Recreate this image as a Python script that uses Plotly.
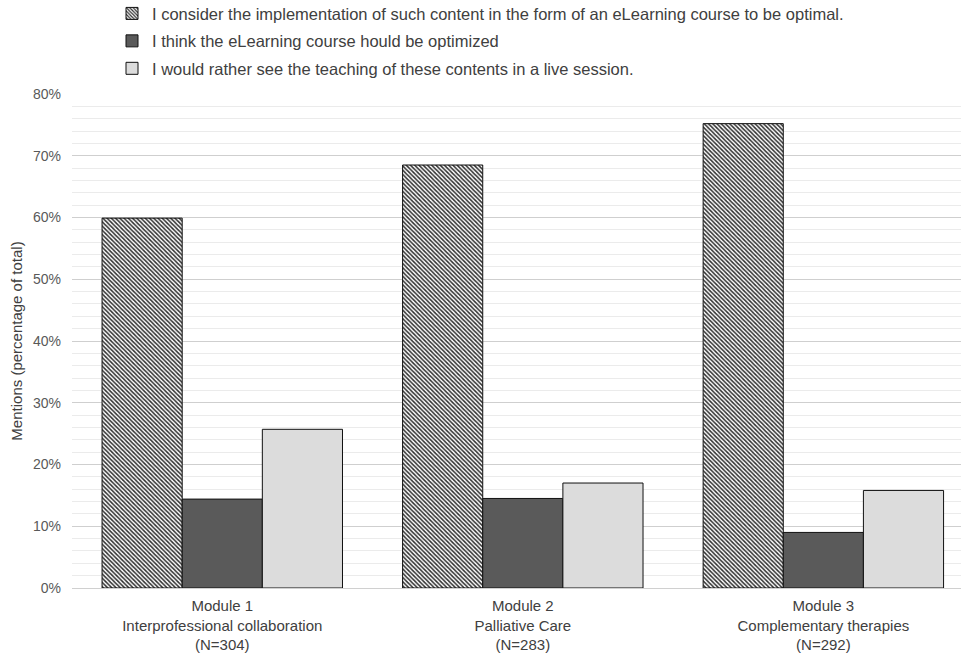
import plotly.graph_objects as go

categories = [
    "Module 1<br>Interprofessional collaboration<br>(N=304)",
    "Module 2<br>Palliative Care<br>(N=283)",
    "Module 3<br>Complementary therapies<br>(N=292)",
]
series_names = [
    "I consider the implementation of such content in the form of an eLearning course to be optimal.",
    "I think the eLearning course hould be optimized",
    "I would rather see the teaching of these contents in a live session.",
]
optimal = [59.9, 68.5, 75.2]
optimize = [14.4, 14.5, 9.0]
live = [25.7, 17.0, 15.8]
y_ticks = [0, 10, 20, 30, 40, 50, 60, 70, 80]

FONT = "Liberation Sans, Arial, sans-serif"

fig = go.Figure()
fig.add_trace(go.Bar(
    x=categories, y=optimal, name=series_names[0], legendgroup="a",
    marker=dict(color="white", line=dict(color="#111111", width=1),
                pattern=dict(shape="\\", size=3, solidity=0.5, fgcolor="#2e2e2e", bgcolor="white", fillmode="replace")),
))
fig.add_trace(go.Bar(
    x=categories, y=optimize, name=series_names[1], legendgroup="b",
    marker=dict(color="#5a5a5a", line=dict(color="#111111", width=1)),
))
fig.add_trace(go.Bar(
    x=categories, y=live, name=series_names[2], legendgroup="c",
    marker=dict(color="#dcdcdc", line=dict(color="#111111", width=1)),
))

fig.update_layout(
    width=961, height=657,
    margin=dict(l=72, r=0, t=94, b=69, autoexpand=False),
    paper_bgcolor="white", plot_bgcolor="white",
    font=dict(family=FONT, size=15, color="#404040"),
    barmode="group", bargap=0.2, bargroupgap=0,
    showlegend=True,
    legend=dict(
        x=0.045, y=1.198, xref="paper", yref="paper", xanchor="left", yanchor="top",
        orientation="v", traceorder="grouped", tracegroupgap=3,
        font=dict(family=FONT, size=16.5, color="#404040"),
        bgcolor="rgba(0,0,0,0)", itemwidth=30,
    ),
    xaxis=dict(
        range=[-0.5, 2.458], showgrid=False, showline=True, linecolor="#d0d0d0",
        ticks="", tickfont=dict(size=15, color="#404040"), automargin=False,
        ticklabelstandoff=4,
    ),
    yaxis=dict(
        range=[0, 80], tickvals=y_ticks, ticktext=[f"{v}%" for v in y_ticks],
        showgrid=True, gridcolor="#cfcfcf", gridwidth=1,
        minor=dict(dtick=2, showgrid=True, gridcolor="#ebebeb", gridwidth=1),
        zeroline=False, showline=False, ticks="",
        tickfont=dict(size=14, color="#595959"), automargin=False,
        ticklabelstandoff=10,
        title=dict(text="Mentions (percentage of total)", font=dict(size=15, color="#404040"), standoff=6),
    ),
)

fig.write_html("out.html")
